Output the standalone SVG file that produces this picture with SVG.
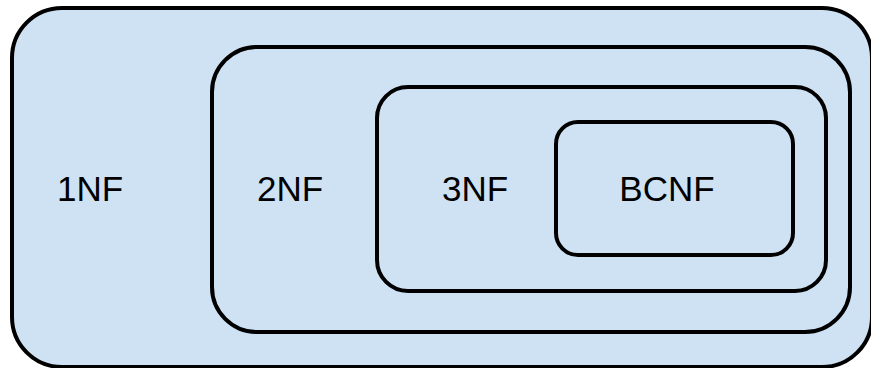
<svg xmlns="http://www.w3.org/2000/svg" width="871" height="368" viewBox="0 0 871 368">
<style>
.box{fill:#cfe2f3;stroke:#000;stroke-width:4}
.lbl{font-family:"Liberation Sans",Arial,sans-serif;font-size:35px;fill:#000;text-anchor:middle}
</style>
<rect width="871" height="368" fill="#fff"/>
<g id="n1NF">
<rect class="box" x="12" y="8" width="860" height="359" rx="50" ry="50"/>
<text class="lbl" x="90" y="201">1NF</text>
</g>
<g id="n2NF">
<rect class="box" x="212" y="47" width="638" height="285" rx="45" ry="45"/>
<text class="lbl" x="290" y="201">2NF</text>
</g>
<g id="n3NF">
<rect class="box" x="377" y="87" width="449" height="204" rx="31" ry="31"/>
<text class="lbl" x="475" y="201">3NF</text>
</g>
<g id="nBCNF">
<rect class="box" x="556" y="122" width="237" height="133" rx="22" ry="22"/>
<text class="lbl" x="667" y="201">BCNF</text>
</g>
<g id="connectors"/>
</svg>
